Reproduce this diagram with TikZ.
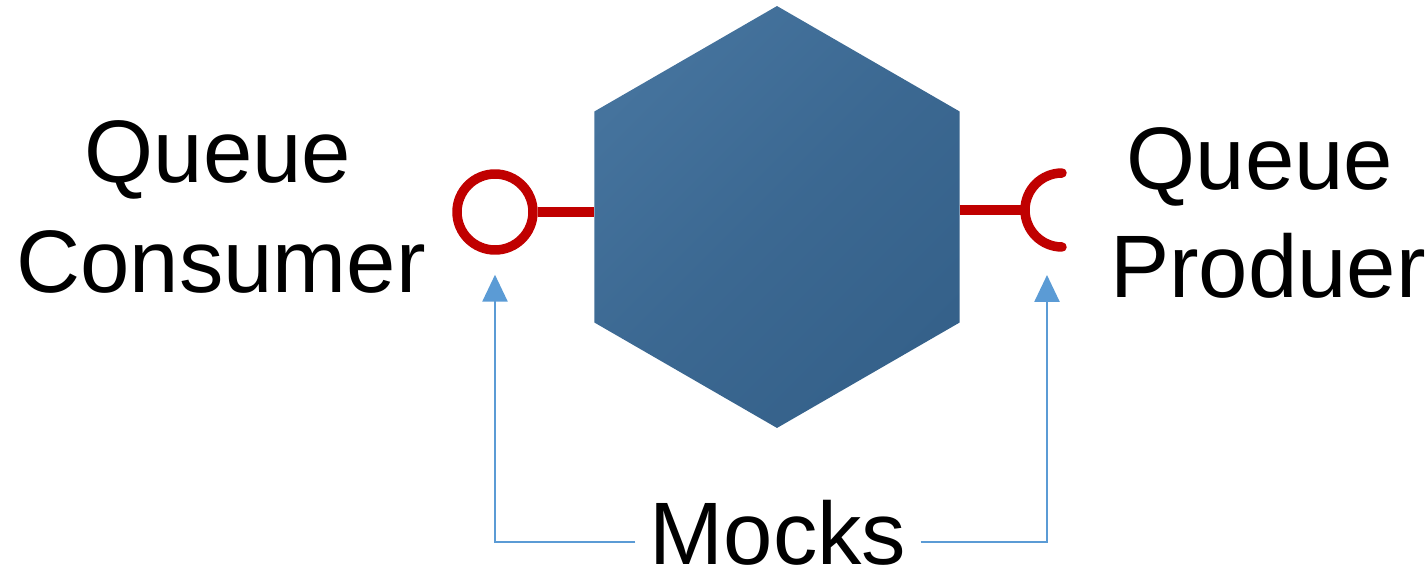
\documentclass[tikz,border=0pt]{standalone}
\usepackage{fontspec}
\setmainfont{Liberation Sans}
\usetikzlibrary{shapes.geometric,arrows.meta,calc}
\definecolor{sockred}{HTML}{C00000}
\definecolor{mockblue}{HTML}{5B9BD5}
\definecolor{hexlight}{HTML}{45739D}
\definecolor{hexdark}{HTML}{35618A}
\tikzset{
  lbl/.style={font=\fontsize{50.5pt}{60pt}\selectfont, text=black, inner sep=0pt, anchor=base},
  redline/.style={draw=sockred, line width=5.4pt},
  mockarrow/.style={draw=mockblue, line width=1.5pt, -{Triangle[length=0.54cm,width=0.5cm]}},
}
\begin{document}
\begin{tikzpicture}[x=0.02cm,y=-0.02cm]
\useasboundingbox (0,0) rectangle (1427,571);
% hexagon
\node[regular polygon, regular polygon sides=6, shape border rotate=30,
      minimum size=8.44cm, inner sep=0pt, outer sep=0pt,
      left color=hexlight, right color=hexdark, middle color=hexdark!60!hexlight, shading angle=45] (hex) at (777,217) {};
% left socket (ball)
\node[circle, draw=sockred, line width=5.4pt, minimum size=1.52cm, inner sep=0pt, fill=white] (cons) at (495,212) {};
\draw[redline] (cons.east) -- (cons.east -| hex.west);
% right socket (cup)
\coordinate (psock) at (1062,210);
\coordinate (pcup) at (1025,210);
\draw[redline] (hex.east |- pcup) -- (pcup);
\draw[redline, line cap=round] (psock) ++(0,0.74cm) arc[start angle=90, end angle=270, radius=0.74cm];
% labels
\node[lbl] (qc1) at (218,182) {Queue};
\node[lbl] (qc2) at (221,292) {Consumer};
\node[lbl] (qp1) at (1260,190) {Queue};
\node[lbl] (qp2) at (1268,297) {Produer};
\node[lbl, inner xsep=0.28cm] (mocks) at (778,564) {Mocks};
% mock arrows
\coordinate (mline) at (0,542);
\coordinate (ptip) at (1047,275);
\draw[mockarrow, shorten >=0.4cm] (mocks.west |- mline) -| (cons.south);
\draw[mockarrow] (mocks.east |- mline) -| (ptip);
\end{tikzpicture}
\end{document}
